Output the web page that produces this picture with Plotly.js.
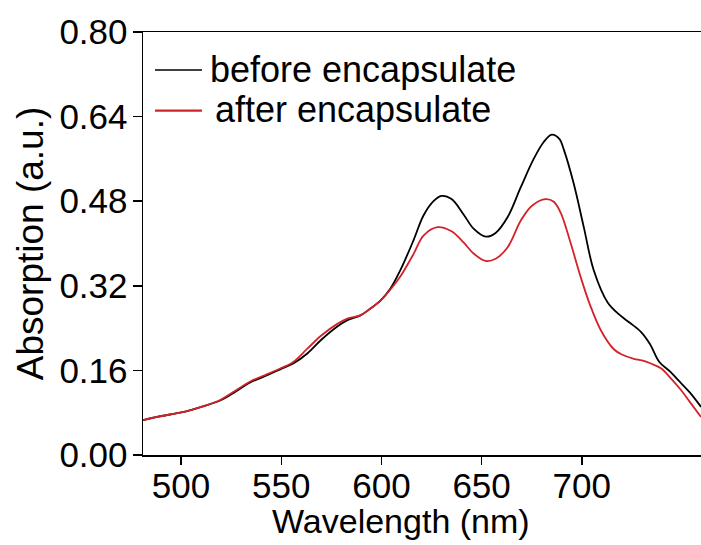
<!DOCTYPE html>
<html>
<head>
<meta charset="utf-8">
<script src="https://cdn.plot.ly/plotly-3.0.1.min.js"></script>
<style>html,body{margin:0;padding:0;background:#fff;}#chart{width:701px;height:545px;}</style>
</head>
<body>
<div id="chart"></div>
<script>
// Wavelength (nm) and absorption (a.u.)
const beforeWavelength = [481,488,503,511,519.5,526,534.5,543,549.5,556,563,570,578,583,589.5,594.5,599.5,604.5,609.5,616,621,626,630,635,641,646,652,657,663,669.5,676,681,685,689,691,696,701,706,713,719.5,724,729.5,734,738.7,744,748,754,759.5];
const beforeAbsorption = [0.066,0.072,0.083,0.092,0.103,0.117,0.137,0.151,0.162,0.173,0.192,0.218,0.243,0.255,0.264,0.277,0.292,0.315,0.350,0.406,0.453,0.480,0.490,0.484,0.455,0.428,0.413,0.420,0.450,0.506,0.560,0.592,0.606,0.597,0.578,0.513,0.431,0.349,0.288,0.263,0.250,0.233,0.210,0.176,0.158,0.142,0.118,0.091];

const afterWavelength = [481,488,503,511,519.5,526,534.5,543,549.5,556,563,570,578,583,589.5,594.5,599.5,604.5,609.5,616,621,628,635,641,646,652,657,663,669.5,675,682,686,689.5,694.5,699.5,704,709.5,716,720,726,730,734.5,739.5,744,749.5,754,759.5];
const afterAbsorption = [0.066,0.072,0.083,0.092,0.104,0.119,0.139,0.153,0.1635,0.176,0.201,0.226,0.248,0.258,0.264,0.277,0.292,0.313,0.338,0.380,0.415,0.431,0.423,0.402,0.381,0.367,0.371,0.393,0.443,0.471,0.484,0.479,0.458,0.400,0.336,0.285,0.236,0.200,0.190,0.182,0.179,0.173,0.164,0.147,0.123,0.100,0.072];

const seriesNames = ['before encapsulate', 'after encapsulate'];
const yTicks = [0, 0.16, 0.32, 0.48, 0.64, 0.80];
const xTicks = [500, 550, 600, 650, 700];

const FONT = 'Liberation Sans, Arial, Helvetica, sans-serif';
const BLACK = '#000000';
const RED = '#d2232a';

const traces = [
  {x: beforeWavelength, y: beforeAbsorption, name: seriesNames[0], mode: 'lines',
   line: {color: BLACK, width: 1.8, shape: 'spline', smoothing: 1}, showlegend: false},
  {x: afterWavelength, y: afterAbsorption, name: seriesNames[1], mode: 'lines',
   line: {color: RED, width: 1.8, shape: 'spline', smoothing: 1}, showlegend: false}
];

const layout = {
  width: 701, height: 545,
  margin: {l: 143, r: 0, t: 32, b: 90, pad: 0},
  paper_bgcolor: '#fff', plot_bgcolor: '#fff',
  font: {family: FONT, color: '#000', size: 35},
  xaxis: {
    range: [481, 759.5], tickvals: xTicks, ticktext: xTicks.map(String),
    ticks: 'outside', ticklen: 8, tickwidth: 1.5, tickcolor: '#000',
    showline: true, linecolor: '#000', linewidth: 1.5, mirror: true,
    showgrid: false, zeroline: false, ticklabelstandoff: -9,
    tickfont: {family: FONT, size: 35, color: '#000'}
  },
  yaxis: {
    range: [0, 0.8], tickvals: yTicks, ticktext: yTicks.map(v => v.toFixed(2)),
    ticks: 'outside', ticklen: 9, tickwidth: 1.5, tickcolor: '#000',
    showline: true, linecolor: '#000', linewidth: 1.5, mirror: false,
    showgrid: false, zeroline: false, ticklabelstandoff: -2,
    tickfont: {family: FONT, size: 35, color: '#000'},
    title: {text: 'Absorption (a.u.)', font: {family: FONT, size: 37, color: '#000'}, standoff: 4}
  },
  shapes: [
    {type: 'line', xref: 'paper', yref: 'paper', x0: 0.0215, x1: 0.1057, y0: 0.910, y1: 0.910,
     line: {color: BLACK, width: 1.6}},
    {type: 'line', xref: 'paper', yref: 'paper', x0: 0.0215, x1: 0.1057, y0: 0.814, y1: 0.814,
     line: {color: RED, width: 2.2}}
  ],
  annotations: [
    {text: seriesNames[0], xref: 'paper', yref: 'paper', x: 0.1165, y: 0.912, xanchor: 'left', yanchor: 'middle',
     showarrow: false, font: {family: FONT, size: 36, color: '#000'}},
    {text: seriesNames[1], xref: 'paper', yref: 'paper', x: 0.125, y: 0.816, xanchor: 'left', yanchor: 'middle',
     showarrow: false, font: {family: FONT, size: 36, color: '#000'}},
    {text: 'Wavelength (nm)', xref: 'paper', yref: 'paper', x: 0.4624, y: -0.157, xanchor: 'center', yanchor: 'middle',
     showarrow: false, font: {family: FONT, size: 34, color: '#000'}}
  ]
};

Plotly.newPlot('chart', traces, layout, {displayModeBar: false, staticPlot: true});
</script>
</body>
</html>
